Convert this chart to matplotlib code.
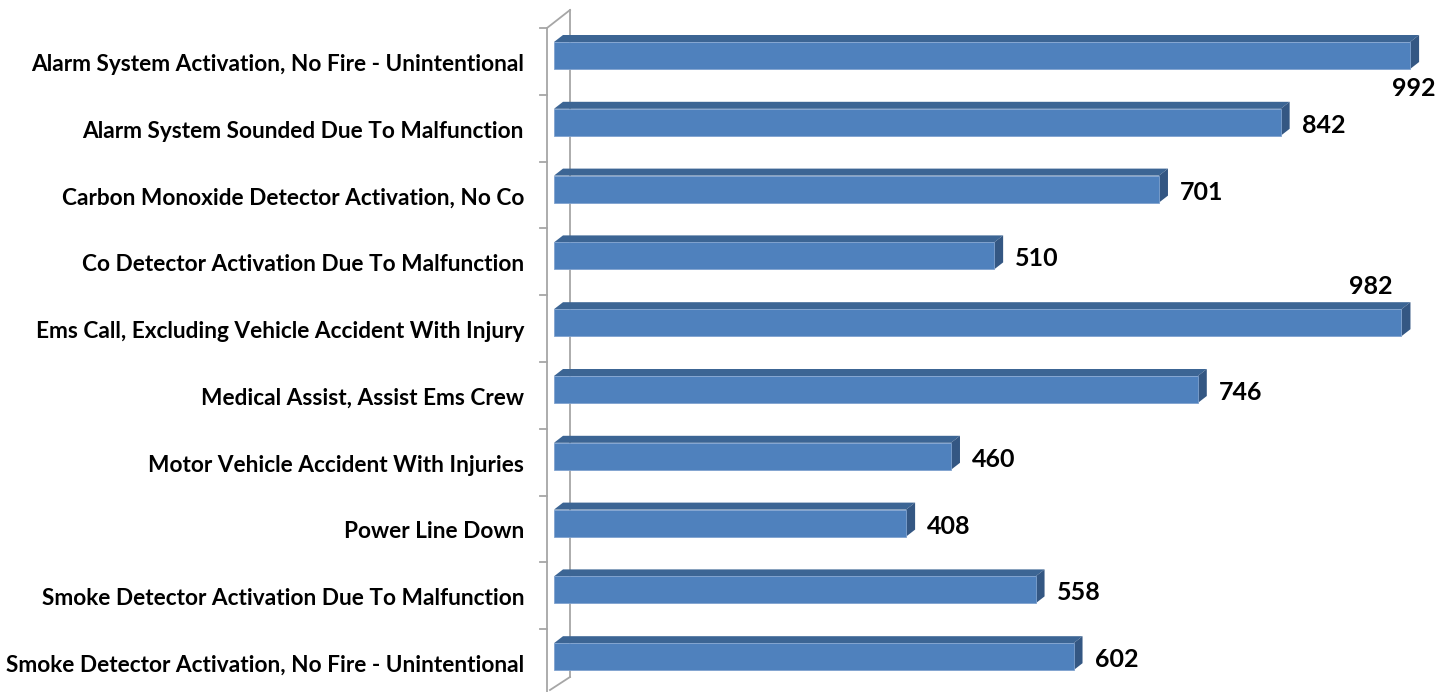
import matplotlib
matplotlib.use("Agg")
import matplotlib.pyplot as plt
from matplotlib.patches import Polygon

# Incident types and counts
categories = [
    "Alarm System Activation, No Fire - Unintentional",
    "Alarm System Sounded Due To Malfunction",
    "Carbon Monoxide Detector Activation, No Co",
    "Co Detector Activation Due To Malfunction",
    "Ems Call, Excluding Vehicle Accident With Injury",
    "Medical Assist, Assist Ems Crew",
    "Motor Vehicle Accident With Injuries",
    "Power Line Down",
    "Smoke Detector Activation Due To Malfunction",
    "Smoke Detector Activation, No Fire - Unintentional",
]
counts = [992, 842, 701, 510, 982, 746, 460, 408, 558, 602]

W, H = 1448, 692
fig = plt.figure(figsize=(W / 100, H / 100), dpi=100)

# pixel-based layout helpers
px_per_val = 0.863
x0_px = 554          # front face of bars starts here
row_px = 66.8
y0_px = 55.5         # centre of first bar front face
ax_left = 540
ax = fig.add_axes([ax_left / W, 0, (W - ax_left) / W, 1])
ax.set_xlim(-(x0_px - ax_left) / px_per_val, (W - x0_px) / px_per_val)
ax.set_ylim((H - y0_px) / row_px, -y0_px / row_px)
ax.axis("off")

dx = 9 / px_per_val     # depth offset (right)
dy = 7 / row_px         # depth offset (up)
bh = 27 / row_px        # bar thickness

front_c = "#4F81BD"
top_c = "#3C6594"
side_c = "#345783"

# walls / axis lines (behind the bars)
wall_c = "#A6A6A6"
fx = -7 / px_per_val
bx = 16 / px_per_val
top_y = (28 - y0_px) / row_px
ax.plot([fx, fx], [top_y, 12], color=wall_c, lw=1.3, clip_on=False, zorder=0)
ax.plot([bx, bx], [top_y - 18 / row_px, (677 - y0_px) / row_px], color=wall_c, lw=1.3, zorder=0)
ax.plot([fx, bx], [top_y, top_y - 18 / row_px], color=wall_c, lw=1.3, zorder=0)
ax.plot([fx + 3 / px_per_val, bx], [(690 - y0_px) / row_px, (677 - y0_px) / row_px],
        color=wall_c, lw=1.3, zorder=0)
for k in range(len(categories) + 1):
    ty = top_y + k
    ax.plot([fx - 7 / px_per_val, fx], [ty, ty], color=wall_c, lw=1.3, clip_on=False, zorder=0)

for i, (cat, v) in enumerate(zip(categories, counts)):
    y_top = i - bh / 2
    y_bot = i + bh / 2
    # top face
    ax.add_patch(Polygon([(0, y_top), (v, y_top), (v + dx, y_top - dy), (dx, y_top - dy)],
                         closed=True, facecolor=top_c, edgecolor="none", zorder=2))
    # side face
    ax.add_patch(Polygon([(v, y_top), (v + dx, y_top - dy), (v + dx, y_bot - dy), (v, y_bot)],
                         closed=True, facecolor=side_c, edgecolor="none", zorder=2))
    ax.barh(i, v, height=bh, left=0, color=front_c, edgecolor="#7FA2CF", linewidth=0.6,
            zorder=3)

    # category label
    ax.text(-30 / px_per_val, top_y + i + 0.5 + 3 / row_px, cat, ha="right", va="center",
            fontsize=16.3, fontweight="bold", family="Lato", color="black")

    # value label (Excel nudged the two longest ones)
    if v >= 990:
        ax.text(v + dx - 5 / px_per_val, i + 33 / row_px, str(v), ha="center", va="center",
                fontsize=18, fontweight="bold", family="Lato")
    elif v >= 950:
        ax.text(v - 31 / px_per_val, i - 36 / row_px, str(v), ha="center", va="center",
                fontsize=18, fontweight="bold", family="Lato")
    else:
        ax.text(v + dx + 12 / px_per_val, i + 3 / row_px, str(v), ha="left", va="center",
                fontsize=18, fontweight="bold", family="Lato")

fig.savefig("out.png", dpi=100)
